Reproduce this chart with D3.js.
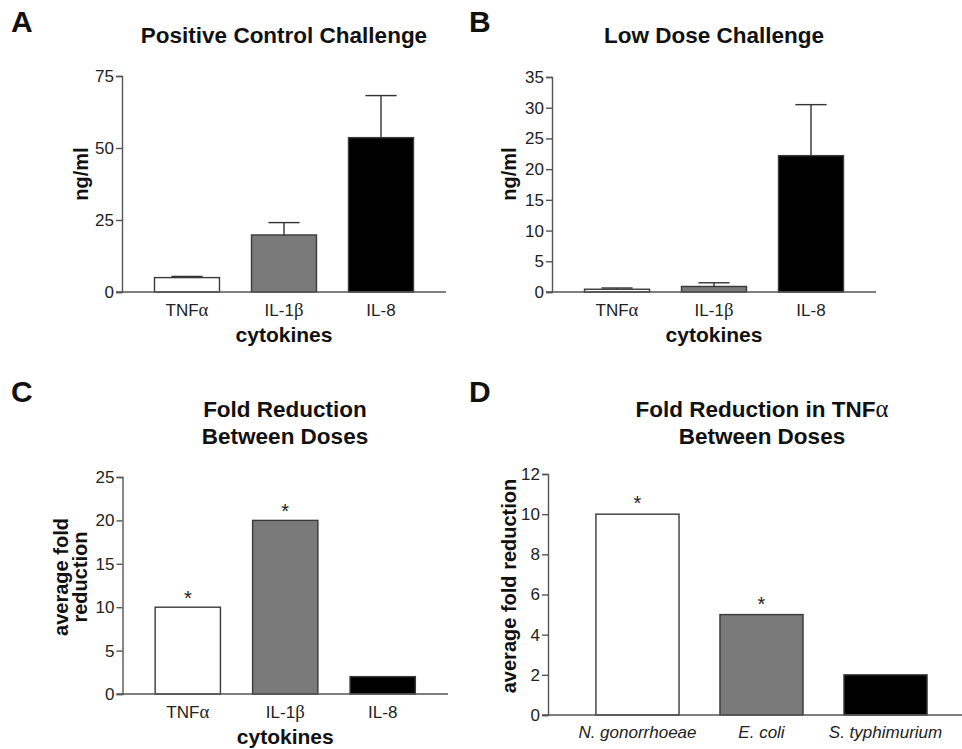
<!DOCTYPE html>
<html>
<head>
<meta charset="utf-8">
<script src="https://cdn.jsdelivr.net/npm/d3@7"></script>
<style>
  body { margin: 0; background: #fff; }
  svg { font-family: "Liberation Sans", Arial, sans-serif; }
  .tick text { fill: #222; }
</style>
</head>
<body>
<svg id="chart" width="962" height="749"></svg>
<script>
  "use strict";

  // categories
  const cytokines = ['TNFα', 'IL-1β', 'IL-8'];
  const bacteria = ['N. gonorrhoeae', 'E. coli', 'S. typhimurium'];

  // series values
  const positiveMeans = [5.0, 19.8, 53.6];
  const positiveErrors = [0.4, 4.3, 14.6];
  const lowMeans = [0.45, 0.9, 22.2];
  const lowErrors = [0.2, 0.6, 8.3];
  const foldByCytokine = [10, 20, 2];
  const foldByCytokineSig = [true, true, false];
  const foldTnf = [10, 5, 2];
  const foldTnfSig = [true, true, false];

  // tick labels
  const ticksA = [0, 25, 50, 75];
  const ticksB = [0, 5, 10, 15, 20, 25, 30, 35];
  const ticksC = [0, 5, 10, 15, 20, 25];
  const ticksD = [0, 2, 4, 6, 8, 10, 12];

  const barFills = ['#ffffff', '#7a7a7a', '#000000'];

  let svg = d3.select('#chart');

  // greek letters are set in a serif face like the original
  function writeLabel(sel, label) {
    let m = label.match(/^(.*?)([αβ])(.*)$/);
    if (!m) { sel.text(label); return; }
    sel.text(null);
    sel.append('tspan').text(m[1]);
    sel.append('tspan').attr('font-family', '"Liberation Serif", "DejaVu Serif", serif').attr('font-size', '1.1em').attr('font-weight', 'normal').text(m[2]);
    if (m[3]) sel.append('tspan').text(m[3]);
  }

  function drawPanel(o) {
    let g = svg.append('g');

    let x = d3.scaleBand()
      .domain(o.cats)
      .range([o.left + o.padL, o.right - o.padR])
      .paddingInner(0.33)
      .paddingOuter(o.outer);

    let y = d3.scaleLinear()
      .domain([0, o.max])
      .range([o.bottom, o.top]);

    // bars
    g.selectAll('rect.bar')
      .data(o.values)
      .enter()
      .append('rect')
      .attr('class', 'bar')
      .attr('x', (d, i) => x(o.cats[i]))
      .attr('y', d => y(d))
      .attr('width', x.bandwidth())
      .attr('height', d => o.bottom - y(d))
      .attr('fill', (d, i) => barFills[i])
      .attr('stroke', '#3a3a3a')
      .attr('stroke-width', 1.4);

    // error bars (upper only)
    if (o.errors) {
      let eg = g.append('g').attr('stroke', '#333').attr('stroke-width', 1.4);
      o.values.forEach(function (d, i) {
        let cx = x(o.cats[i]) + x.bandwidth() / 2;
        eg.append('line')
          .attr('x1', cx).attr('x2', cx)
          .attr('y1', y(d)).attr('y2', y(d + o.errors[i]));
        eg.append('line')
          .attr('x1', cx - x.bandwidth() * 0.24).attr('x2', cx + x.bandwidth() * 0.24)
          .attr('y1', y(d + o.errors[i])).attr('y2', y(d + o.errors[i]));
      });
    }

    // significance stars
    if (o.sig) {
      o.values.forEach(function (d, i) {
        if (!o.sig[i]) return;
        g.append('text')
          .attr('x', x(o.cats[i]) + x.bandwidth() / 2)
          .attr('y', y(d) - o.starGap)
          .attr('text-anchor', 'middle')
          .attr('font-size', 20)
          .attr('fill', '#222')
          .text('*');
      });
    }

    // y axis
    let axisY = d3.axisLeft(y)
      .tickValues(o.ticks)
      .tickSize(6)
      .tickPadding(2)
      .tickFormat(d3.format('d'));

    let ay = g.append('g')
      .attr('transform', 'translate(' + o.left + ',0)')
      .call(axisY);
    ay.select('.domain').attr('stroke', '#555').attr('stroke-width', 1.4);
    ay.selectAll('.tick line').attr('stroke', '#555').attr('stroke-width', 1.4);
    ay.selectAll('.tick text').attr('font-size', 17).attr('fill', '#333');

    // baseline
    g.append('line')
      .attr('x1', o.left - 6).attr('x2', o.right)
      .attr('y1', o.bottom).attr('y2', o.bottom)
      .attr('stroke', '#555').attr('stroke-width', 1.4);

    // category labels
    g.selectAll('text.cat')
      .data(o.cats)
      .enter()
      .append('text')
      .attr('class', 'cat')
      .attr('x', d => x(d) + x.bandwidth() / 2)
      .attr('y', o.bottom + o.catDy)
      .attr('text-anchor', 'middle')
      .attr('font-size', 17)
      .attr('font-style', o.italic ? 'italic' : null)
      .attr('fill', '#222')
      .each(function (d) { writeLabel(d3.select(this), d); });

    // x title
    if (o.xTitle) {
      g.append('text')
        .attr('x', (o.left + o.right) / 2)
        .attr('y', o.bottom + o.xTitleDy)
        .attr('text-anchor', 'middle')
        .attr('font-size', 21)
        .attr('font-weight', 'bold')
        .attr('fill', '#111')
        .text(o.xTitle);
    }

    // y title
    o.yTitle.forEach(function (line, i) {
      g.append('text')
        .attr('transform', 'translate(' + o.yTitleX[i] + ',' + o.yTitleY + ') rotate(-90)')
        .attr('text-anchor', 'middle')
        .attr('font-size', 20)
        .attr('font-weight', 'bold')
        .attr('fill', '#111')
        .text(line);
    });

    // chart title
    o.title.forEach(function (line, i) {
      let t = g.append('text')
        .attr('x', o.titleX)
        .attr('y', o.titleY + i * 27)
        .attr('text-anchor', 'middle')
        .attr('font-size', 22.5)
        .attr('font-weight', 'bold')
        .attr('fill', '#111');
      writeLabel(t, line);
    });

    // panel letter
    g.append('text')
      .attr('x', o.letterX)
      .attr('y', o.letterY)
      .attr('font-size', 30)
      .attr('font-weight', 'bold')
      .attr('fill', '#111')
      .text(o.letter);
  }

  drawPanel({
    letter: 'A', letterX: 11, letterY: 32,
    title: ['Positive Control Challenge'], titleX: 284, titleY: 43,
    cats: cytokines, values: positiveMeans, errors: positiveErrors,
    max: 75, ticks: ticksA,
    left: 122, right: 446, padL: 0, padR: 0, outer: 0.335,
    top: 76, bottom: 292,
    catDy: 24, xTitle: 'cytokines', xTitleDy: 50,
    yTitle: ['ng/ml'], yTitleX: [88], yTitleY: 174
  });

  drawPanel({
    letter: 'B', letterX: 469, letterY: 32,
    title: ['Low Dose Challenge'], titleX: 714, titleY: 43,
    cats: cytokines, values: lowMeans, errors: lowErrors,
    max: 35, ticks: ticksB,
    left: 552, right: 876, padL: 0, padR: 0, outer: 0.335,
    top: 77, bottom: 292,
    catDy: 24, xTitle: 'cytokines', xTitleDy: 50,
    yTitle: ['ng/ml'], yTitleX: [516], yTitleY: 174
  });

  drawPanel({
    letter: 'C', letterX: 11, letterY: 402,
    title: ['Fold Reduction', 'Between Doses'], titleX: 285, titleY: 417,
    cats: cytokines, values: foldByCytokine, sig: foldByCytokineSig, starGap: 2,
    max: 25, ticks: ticksC,
    left: 122.5, right: 448, padL: 0, padR: 0, outer: 0.335,
    top: 477, bottom: 694,
    catDy: 24, xTitle: 'cytokines', xTitleDy: 50,
    yTitle: ['average fold', 'reduction'], yTitleX: [68, 87], yTitleY: 577
  });

  drawPanel({
    letter: 'D', letterX: 469, letterY: 402,
    title: ['Fold Reduction in TNFα', 'Between Doses'], titleX: 762, titleY: 417,
    cats: bacteria, values: foldTnf, sig: foldTnfSig, starGap: 4,
    max: 12, ticks: ticksD, italic: true,
    left: 548, right: 962, padL: 7, padR: -6, outer: 0.33,
    top: 474, bottom: 715,
    catDy: 23, xTitle: null,
    yTitle: ['average fold reduction'], yTitleX: [516], yTitleY: 586
  });
</script>
</body>
</html>
